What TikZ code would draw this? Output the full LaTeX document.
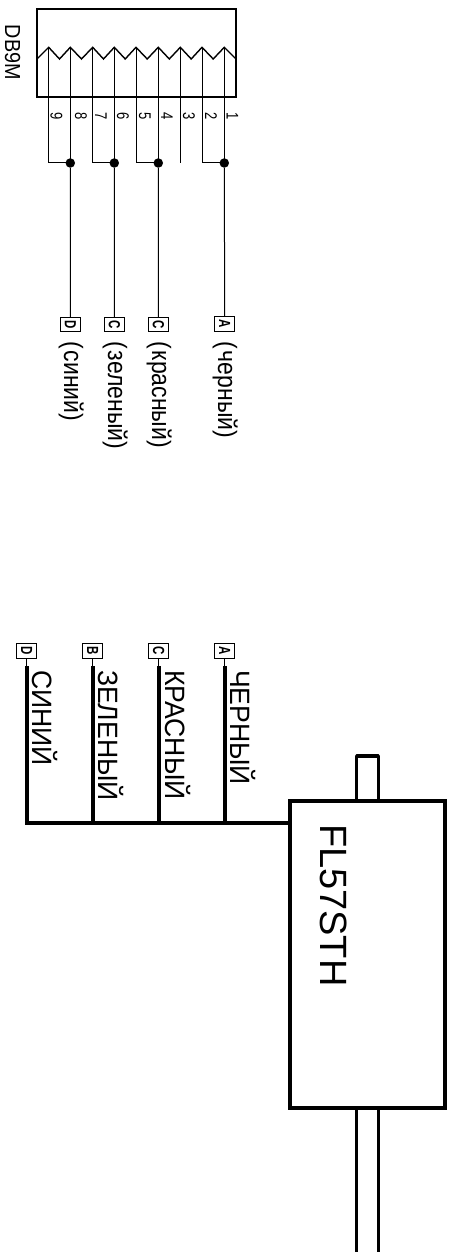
\documentclass[tikz,border=0pt]{standalone}
\usepackage{fontspec}
\setmainfont{Liberation Sans}
\newcommand{\fsz}[1]{\fontsize{#1pt}{#1pt}\selectfont}
\newcommand{\ys}[2]{\scalebox{1}[#1]{#2}}
\newcommand{\wlab}[1]{\scalebox{1}[1.15]{(\hspace{-0.2em} #1)}}
\tikzset{
  thinw/.style={line width=1pt,black},
  thickw/.style={line width=4pt,line cap=rect},
  midw/.style={line width=3.4pt},
  lab/.style={inner sep=0pt,outer sep=0pt,rotate=-90,anchor=base west},
  tag/.style={draw,line width=1pt,inner sep=0pt,outer sep=0pt,rotate=-90,minimum width=14.5pt,minimum height=20.5pt,font=\fsz{11.5}\bfseries},
  dot/.style={circle,fill=black,inner sep=0pt,minimum size=9.5pt},
  pinno/.style={lab,font=\fsz{13}},
  wirelab/.style={lab,font=\fsz{23}},
  biglab/.style={lab,font=\fsz{26.6}}
}
\begin{document}
\begin{tikzpicture}[x=1pt,y=-1pt]
\useasboundingbox (0,0) rectangle (450,1252);
% connector body
\node[draw,line width=1.8pt,inner sep=0pt,outer sep=0pt,minimum width=198.4pt,minimum height=88pt,anchor=north west] (db) at (37.3,9.3) {};
\node[lab,font=\fsz{19.8}] (dbname) at (5.2,25) {\ys{1.1}{DB9M}};
% zigzag and pins
\draw[line width=1.4pt] (37.3,58.7) -- (48.7,47.3) -- (59.5,59) -- (70.3,47.3) -- (81.5,59) -- (92.7,47.3) -- (103.5,59) -- (114.3,47.3) -- (125.2,59) -- (136,47.3) -- (147.2,59) -- (158.3,47.3) -- (169.3,59) -- (180.3,47.3) -- (191.2,59) -- (202,47.3) -- (213.2,59) -- (224.3,47.3) -- (235.7,58.7);
\foreach \n/\x in {p9/48.7,p8/70.3,p7/92.7,p6/114.3,p5/136,p4/158.3,p3/180.3,p2/202,p1/224.3}{
  \coordinate (\n) at (\x,47.3);
  \coordinate (\n e) at (\x,163);
}
\foreach \n/\x/\t in {n9/50.5/9,n8/75/8,n7/95/7,n6/117/6,n5/139/5,n4/161/4,n3/183/3,n2/205/2,n1/226.5/1}{
  \node[pinno] (\n) at (\x,113) {\ys{1.3}{\t}};
}
\node[dot] (j8) at (p8e) {};
\node[dot] (j6) at (p6e) {};
\node[dot] (j4) at (p4e) {};
\node[dot] (j1) at (p1e) {};
\draw[thinw] (p9) -- (p9e) -- (j8.center);
\draw[thinw] (p8) -- (j8.center);
\draw[thinw] (p7) -- (p7e) -- (j6.center);
\draw[thinw] (p6) -- (j6.center);
\draw[thinw] (p5) -- (p5e) -- (j4.center);
\draw[thinw] (p4) -- (j4.center);
\draw[thinw] (p3) -- (p3e);
\draw[thinw] (p2) -- (p2e) -- (j1.center);
\draw[thinw] (p1) -- (j1.center);
% upper tags
\node[tag] (td) at (70.5,324.5) {\ys{1.4}{D}};
\node[tag] (tc2) at (114.5,324.5) {\ys{1.4}{C}};
\node[tag] (tc1) at (158.5,324.5) {\ys{1.4}{C}};
\node[tag] (ta) at (224.7,324) {\ys{1.4}{A}};
\draw[thinw] (j8) -- (td);
\draw[thinw] (j6) -- (tc2);
\draw[thinw] (j4) -- (tc1);
\draw[thinw] (j1) -- (ta);
\node[wirelab] (l1) at (64,341.5) {\wlab{синий}};
\node[wirelab] (l2) at (108,341.5) {\wlab{зеленый}};
\node[wirelab] (l3) at (152,341.5) {\wlab{красный}};
\node[wirelab] (l4) at (218,341.5) {\wlab{черный}};
% lower tags
\node[tag] (bd) at (26.7,651) {\ys{1.4}{D}};
\node[tag] (bb) at (92.7,651) {\ys{1.4}{B}};
\node[tag] (bc) at (158.7,651) {\ys{1.4}{C}};
\node[tag] (ba) at (224.7,651) {\ys{1.4}{A}};
\coordinate (cd) at (26.7,668);
\coordinate (cb) at (92.7,668);
\coordinate (cc) at (158.7,668);
\coordinate (ca) at (224.7,668);
\coordinate (bus0) at (26.7,822.5);
\coordinate (bus1) at (92.7,822.5);
\coordinate (bus2) at (158.7,822.5);
\coordinate (bus3) at (224.7,822.5);
\draw[thinw] (bd) -- (cd);
\draw[thinw] (bb) -- (cb);
\draw[thinw] (bc) -- (cc);
\draw[thinw] (ba) -- (ca);
\draw[thickw] (cd) -- (bus0);
\draw[thickw] (cb) -- (bus1);
\draw[thickw] (cc) -- (bus2);
\draw[thickw] (ca) -- (bus3);
\node[biglab] (b1) at (32,670) {\ys{1.05}{СИНИЙ}};
\node[biglab] (b2) at (98,670) {\ys{1.05}{ЗЕЛЕНЫЙ}};
\node[biglab] (b3) at (165,670) {\ys{1.05}{КРАСНЫЙ}};
\node[biglab] (b4) at (230,670) {\ys{1.05}{ЧЕРНЫЙ}};
% filter
\node[draw,line width=4pt,inner sep=0pt,outer sep=0pt,minimum width=155pt,minimum height=307pt,anchor=north west] (fl) at (290,800.7) {};
\node[lab,font=\fsz{38}] (flname) at (320,824) {FL57STH};
\coordinate (busin) at (fl.west |- bus0);
\draw[thickw] (bus0) -- (busin);
\coordinate (s1) at (356.7,756);
\coordinate (s2) at (378.3,756);
\draw[midw,line join=round] (s1 |- fl.north) -- (s1) -- (s2) -- (s2 |- fl.north);
\coordinate (e1) at (356.7,1252);
\coordinate (e2) at (378.3,1252);
\draw[midw] (s1 |- fl.south) -- (e1);
\draw[midw] (s2 |- fl.south) -- (e2);
\end{tikzpicture}
\end{document}
